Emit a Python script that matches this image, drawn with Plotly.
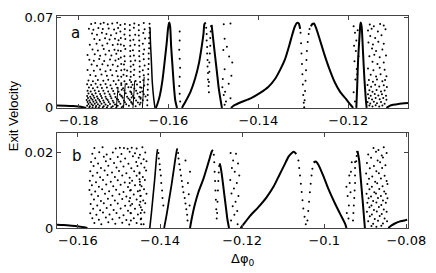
import plotly.graph_objects as go

# ================= panel (a) data =================
a_left_curve_x = [-0.1850, -0.1830, -0.1812, -0.1800, -0.1790, -0.1783]
a_left_curve_y = [0.0019, 0.0017, 0.0014, 0.0010, 0.0005, 0.0]

a_right_curve_x = [-0.1115, -0.1108, -0.1100, -0.1088, -0.1067]
a_right_curve_y = [0.0, 0.0015, 0.0024, 0.0031, 0.0037]

a_peakA_x = [-0.1628, -0.1624, -0.1619, -0.1613, -0.1608, -0.1604, -0.1601, -0.1599, -0.1598,
             -0.1596, -0.1594, -0.1591, -0.1588, -0.1585, -0.1581]
a_peakA_y = [0.0, 0.0036, 0.0099, 0.0223, 0.0373, 0.0498, 0.0610, 0.0652, 0.0660,
             0.0622, 0.0473, 0.0323, 0.0173, 0.0061, 0.0]

a_peakB_left_x = [-0.1570, -0.1562, -0.1551, -0.1541, -0.1532, -0.1526, -0.1522, -0.1520, -0.1517]
a_peakB_left_y = [0.0, 0.0049, 0.0124, 0.0223, 0.0348, 0.0473, 0.0573, 0.0647, 0.0660]
a_peakB_right_x = [-0.1504, -0.1501, -0.1497, -0.1492, -0.1488, -0.1484, -0.1481]
a_peakB_right_y = [0.0642, 0.0548, 0.0423, 0.0273, 0.0148, 0.0061, 0.0]

a_peakC_left_x = [-0.1461, -0.1454, -0.1439, -0.1417, -0.1396, -0.1378, -0.1363, -0.1351,
                  -0.1341, -0.1332, -0.1325, -0.1319, -0.1314, -0.1310, -0.1307]
a_peakC_left_y = [0.0, 0.0019, 0.0044, 0.0074, 0.0116, 0.0161, 0.0223, 0.0298,
                  0.0373, 0.0473, 0.0560, 0.0627, 0.0657, 0.0652, 0.0610]
a_peakC_right_x = [-0.1283, -0.1280, -0.1276, -0.1272, -0.1265, -0.1254, -0.1243, -0.1230,
                   -0.1218, -0.1205, -0.1196, -0.1189]
a_peakC_right_y = [0.0630, 0.0647, 0.0652, 0.0622, 0.0548, 0.0423, 0.0311, 0.0198,
                   0.0124, 0.0069, 0.0029, 0.0]

a_spikeD_x = [-0.1182, -0.1180, -0.1178, -0.1175, -0.1173, -0.1172, -0.1170, -0.1167, -0.1164, -0.1161, -0.1159]
a_spikeD_y = [0.0, 0.0173, 0.0373, 0.0548, 0.0647, 0.0660, 0.0622, 0.0423, 0.0223, 0.0074, 0.0]

a_spikeS_right_x = [-0.1641, -0.1640, -0.1638, -0.1636, -0.1633, -0.1630]
a_spikeS_right_y = [0.062, 0.050, 0.036, 0.020, 0.008, 0.0]

a_short_fringes = [
    ([-0.1716, -0.1712], [0.0, 0.016]),
    ([-0.1700, -0.1696], [0.0, 0.019]),
    ([-0.1679, -0.1675], [0.0, 0.021]),
    ([-0.1658, -0.1654], [0.0, 0.024]),
]

a_chaos_pts = [
    (-0.1772,0.0648),(-0.1763,0.0655),(-0.1751,0.0650),(-0.1744,0.0657),(-0.1735,0.0646),(-0.1725,0.0652),
    (-0.1714,0.0658),(-0.1697,0.0649),(-0.1676,0.0652),(-0.1655,0.0656),
    (-0.1777,0.0612),(-0.1767,0.0603),(-0.1756,0.0618),(-0.1746,0.0609),(-0.1733,0.0614),(-0.1721,0.0605),
    (-0.1712,0.0617),(-0.1697,0.0610),(-0.1677,0.0620),(-0.1653,0.0607),
    (-0.1770,0.0575),(-0.1759,0.0566),(-0.1748,0.0580),(-0.1738,0.0570),(-0.1728,0.0562),(-0.1716,0.0577),
    (-0.1698,0.0568),(-0.1674,0.0565),(-0.1656,0.0578),
    (-0.1765,0.0532),(-0.1753,0.0525),(-0.1741,0.0538),(-0.1731,0.0528),(-0.1719,0.0535),(-0.1711,0.0522),
    (-0.1696,0.0533),(-0.1678,0.0527),(-0.1652,0.0536),
    (-0.1775,0.0488),(-0.1760,0.0495),(-0.1747,0.0483),(-0.1736,0.0497),(-0.1724,0.0486),(-0.1713,0.0492),
    (-0.1699,0.0481),(-0.1675,0.0487),(-0.1657,0.0496),
    (-0.1769,0.0452),(-0.1757,0.0444),(-0.1744,0.0456),(-0.1732,0.0441),(-0.1720,0.0450),(-0.1712,0.0443),
    (-0.1696,0.0455),(-0.1679,0.0446),(-0.1654,0.0452),
    (-0.1780,0.0408),(-0.1764,0.0415),(-0.1752,0.0402),(-0.1740,0.0413),(-0.1727,0.0405),(-0.1716,0.0418),
    (-0.1698,0.0400),(-0.1677,0.0404),(-0.1656,0.0416),
    (-0.1776,0.0372),(-0.1766,0.0365),(-0.1754,0.0377),(-0.1743,0.0363),(-0.1730,0.0374),(-0.1718,0.0366),
    (-0.1711,0.0378),(-0.1697,0.0361),(-0.1674,0.0367),(-0.1655,0.0376),
    (-0.1771,0.0335),(-0.1759,0.0326),(-0.1747,0.0338),(-0.1735,0.0328),(-0.1724,0.0333),(-0.1713,0.0322),
    (-0.1699,0.0336),(-0.1678,0.0334),(-0.1653,0.0327),
    (-0.1780,0.0293),(-0.1766,0.0287),(-0.1752,0.0297),(-0.1740,0.0284),(-0.1729,0.0292),(-0.1716,0.0285),
    (-0.1698,0.0296),(-0.1692,0.0288),(-0.1676,0.0294),(-0.1657,0.0291),
    (-0.1774,0.0255),(-0.1762,0.0246),(-0.1749,0.0258),(-0.1737,0.0248),(-0.1725,0.0253),(-0.1713,0.0244),
    (-0.1700,0.0256),(-0.1693,0.0247),(-0.1677,0.0254),(-0.1655,0.0252),
    (-0.1778,0.0212),(-0.1768,0.0206),(-0.1757,0.0215),(-0.1745,0.0209),(-0.1734,0.0217),(-0.1722,0.0207),
    (-0.1711,0.0213),(-0.1698,0.0205),(-0.1686,0.0216),(-0.1673,0.0208),(-0.1656,0.0214),
    (-0.1781,0.0182),(-0.1772,0.0176),(-0.1762,0.0186),(-0.1751,0.0178),(-0.1740,0.0184),(-0.1729,0.0175),
    (-0.1717,0.0183),(-0.1705,0.0177),(-0.1693,0.0185),(-0.1680,0.0179),(-0.1670,0.0181),(-0.1654,0.0174),
    (-0.1777,0.0157),(-0.1768,0.0151),(-0.1758,0.0160),(-0.1748,0.0153),(-0.1737,0.0158),(-0.1726,0.0150),
    (-0.1714,0.0156),(-0.1701,0.0152),(-0.1689,0.0159),(-0.1676,0.0150),(-0.1660,0.0155),
    (-0.1780,0.0132),(-0.1773,0.0127),(-0.1764,0.0135),(-0.1755,0.0128),(-0.1745,0.0133),(-0.1734,0.0126),
    (-0.1723,0.0131),(-0.1711,0.0125),(-0.1698,0.0134),(-0.1685,0.0127),(-0.1672,0.0132),(-0.1658,0.0126),
    (-0.1778,0.0111),(-0.1770,0.0106),(-0.1762,0.0114),(-0.1752,0.0108),(-0.1742,0.0112),(-0.1731,0.0105),
    (-0.1720,0.0110),(-0.1708,0.0104),(-0.1695,0.0113),(-0.1682,0.0107),(-0.1669,0.0111),(-0.1655,0.0105),
    (-0.1781,0.0091),(-0.1774,0.0087),(-0.1767,0.0094),(-0.1759,0.0088),(-0.1750,0.0092),(-0.1740,0.0086),
    (-0.1729,0.0090),(-0.1718,0.0085),(-0.1705,0.0093),(-0.1692,0.0087),(-0.1679,0.0091),(-0.1665,0.0086),(-0.1651,0.0089),
    (-0.1779,0.0076),(-0.1772,0.0072),(-0.1765,0.0078),(-0.1757,0.0073),(-0.1748,0.0077),(-0.1738,0.0071),
    (-0.1727,0.0075),(-0.1715,0.0070),(-0.1702,0.0078),(-0.1689,0.0072),(-0.1676,0.0076),(-0.1662,0.0071),
    (-0.1782,0.0061),(-0.1776,0.0058),(-0.1769,0.0063),(-0.1762,0.0059),(-0.1754,0.0062),(-0.1745,0.0057),
    (-0.1735,0.0061),(-0.1724,0.0056),(-0.1712,0.0063),(-0.1699,0.0058),(-0.1686,0.0062),(-0.1672,0.0057),(-0.1657,0.0060),
    (-0.1780,0.0046),(-0.1774,0.0042),(-0.1767,0.0048),(-0.1760,0.0043),(-0.1752,0.0047),(-0.1743,0.0042),
    (-0.1733,0.0046),(-0.1722,0.0041),(-0.1710,0.0047),(-0.1697,0.0043),(-0.1683,0.0046),(-0.1668,0.0042),
    (-0.1778,0.0031),(-0.1771,0.0028),(-0.1764,0.0033),(-0.1757,0.0029),(-0.1749,0.0032),(-0.1740,0.0027),
    (-0.1730,0.0031),(-0.1719,0.0027),(-0.1707,0.0032),(-0.1694,0.0028),(-0.1680,0.0031),(-0.1664,0.0027),
    (-0.1781,0.0016),(-0.1775,0.0013),(-0.1768,0.0018),(-0.1761,0.0014),(-0.1753,0.0017),(-0.1744,0.0012),
    (-0.1735,0.0016),(-0.1724,0.0013),(-0.1713,0.0017),(-0.1701,0.0012),(-0.1688,0.0016),(-0.1673,0.0013),
    (-0.1776,0.0005),(-0.1769,0.0003),(-0.1762,0.0006),(-0.1755,0.0004),(-0.1746,0.0005),(-0.1737,0.0003),
    (-0.1727,0.0006),(-0.1716,0.0004),(-0.1704,0.0005),
]

a_fringe_pts = [
    # dotted columns inside the chaotic band
    (-0.1707,0.064),(-0.1707,0.059),(-0.1706,0.054),(-0.1706,0.049),(-0.1706,0.044),(-0.1706,0.039),
    (-0.1705,0.034),(-0.1705,0.029),(-0.1705,0.024),(-0.1705,0.019),(-0.1704,0.014),(-0.1704,0.009),
    (-0.1686,0.064),(-0.1686,0.060),(-0.1686,0.056),(-0.1685,0.052),(-0.1685,0.048),(-0.1685,0.044),
    (-0.1685,0.040),(-0.1684,0.036),(-0.1684,0.032),(-0.1684,0.028),(-0.1684,0.024),(-0.1683,0.020),
    (-0.1683,0.016),(-0.1683,0.012),(-0.1682,0.008),(-0.1682,0.004),
    (-0.1666,0.064),(-0.1666,0.060),(-0.1666,0.056),(-0.1665,0.052),(-0.1665,0.048),(-0.1665,0.044),
    (-0.1665,0.040),(-0.1664,0.036),(-0.1664,0.032),(-0.1664,0.028),(-0.1664,0.024),(-0.1663,0.020),
    (-0.1663,0.016),(-0.1663,0.012),(-0.1662,0.008),(-0.1662,0.004),
    (-0.1647,0.002),(-0.1647,0.006),(-0.1646,0.010),(-0.1646,0.014),(-0.1646,0.018),(-0.1645,0.022),
    (-0.1645,0.026),(-0.1645,0.030),(-0.1644,0.034),(-0.1644,0.038),(-0.1644,0.042),(-0.1643,0.046),
    (-0.1643,0.050),(-0.1643,0.054),(-0.1642,0.058),(-0.1642,0.062),(-0.1642,0.065),
    # dotted column right of peak A
    (-0.1575,0.059),(-0.1575,0.052),(-0.1576,0.045),(-0.1575,0.038),(-0.1574,0.031),(-0.1575,0.024),
    (-0.1576,0.017),(-0.1575,0.011),(-0.1574,0.005),
    # inside peak B
    (-0.1516,0.062),(-0.1515,0.057),(-0.1515,0.052),(-0.1514,0.047),(-0.1514,0.042),(-0.1513,0.037),
    (-0.1513,0.032),(-0.1512,0.027),(-0.1512,0.022),(-0.1511,0.017),(-0.1510,0.012),(-0.1510,0.020),
    (-0.1509,0.028),(-0.1509,0.035),(-0.1508,0.042),(-0.1507,0.048),(-0.1507,0.054),(-0.1506,0.059),(-0.1505,0.063),
    # column after peak B
    (-0.1477,0.0647),(-0.1462,0.0652),(-0.1475,0.0535),(-0.1470,0.0473),(-0.1478,0.0448),(-0.1465,0.0398),
    (-0.1475,0.0298),(-0.1460,0.0248),(-0.1479,0.0223),(-0.1466,0.0186),(-0.1474,0.0124),(-0.1477,0.0099),
    (-0.1462,0.0074),(-0.1472,0.0049),(-0.1475,0.0024),(-0.1480,0.0160),(-0.1458,0.0350),
    # dotted dip of peak C
    (-0.1306,0.058),(-0.1305,0.050),(-0.1304,0.042),(-0.1303,0.034),(-0.1302,0.026),(-0.1301,0.018),
    (-0.1300,0.010),(-0.1299,0.004),(-0.1298,0.0005),(-0.1297,0.006),(-0.1296,0.013),(-0.1295,0.021),
    (-0.1294,0.029),(-0.1293,0.037),(-0.1292,0.044),(-0.1290,0.051),(-0.1288,0.057),(-0.1286,0.061),
]

a_right_chaos_pts = [
    (-0.1188,0.063),(-0.1185,0.058),(-0.1187,0.048),(-0.1183,0.044),(-0.1186,0.036),(-0.1181,0.030),
    (-0.1184,0.022),(-0.1179,0.060),(-0.1188,0.012),(-0.1182,0.052),(-0.1177,0.040),(-0.1185,0.005),(-0.1180,0.026),
    (-0.1152,0.0645),(-0.1143,0.0631),(-0.1129,0.0648),(-0.1121,0.0636),
    (-0.1156,0.0598),(-0.1148,0.0611),(-0.1134,0.0590),(-0.1117,0.0607),
    (-0.1151,0.0556),(-0.1140,0.0541),(-0.1126,0.0562),
    (-0.1155,0.0505),(-0.1145,0.0489),(-0.1133,0.0512),(-0.1121,0.0495),
    (-0.1147,0.0458),(-0.1138,0.0440),(-0.1124,0.0451),
    (-0.1153,0.0400),(-0.1142,0.0411),(-0.1130,0.0392),(-0.1116,0.0404),
    (-0.1146,0.0357),(-0.1135,0.0340),(-0.1121,0.0351),
    (-0.1156,0.0305),(-0.1144,0.0290),(-0.1130,0.0311),(-0.1119,0.0294),
    (-0.1150,0.0257),(-0.1138,0.0242),(-0.1128,0.0260),(-0.1115,0.0245),
    (-0.1154,0.0215),(-0.1145,0.0203),(-0.1136,0.0219),(-0.1124,0.0206),(-0.1118,0.0216),
    (-0.1157,0.0176),(-0.1149,0.0163),(-0.1140,0.0178),(-0.1131,0.0165),(-0.1121,0.0175),(-0.1114,0.0162),
    (-0.1153,0.0136),(-0.1146,0.0124),(-0.1137,0.0138),(-0.1127,0.0126),(-0.1119,0.0135),
    (-0.1156,0.0105),(-0.1150,0.0094),(-0.1141,0.0107),(-0.1133,0.0095),(-0.1125,0.0106),(-0.1116,0.0093),
    (-0.1154,0.0075),(-0.1147,0.0064),(-0.1139,0.0077),(-0.1130,0.0066),(-0.1122,0.0076),(-0.1115,0.0063),
    (-0.1157,0.0045),(-0.1151,0.0034),(-0.1143,0.0047),(-0.1136,0.0035),(-0.1127,0.0046),(-0.1119,0.0033),
    (-0.1153,0.0018),(-0.1146,0.0010),(-0.1139,0.0020),(-0.1131,0.0011),(-0.1124,0.0019),
]

# ================= panel (b) data =================
b_left_curve_x = [-0.1653, -0.1635, -0.1615, -0.1598, -0.1585, -0.1577]
b_left_curve_y = [0.0009, 0.0008, 0.0006, 0.0004, 0.0002, 0.0]

b_right_curve_x = [-0.0844, -0.0836, -0.0828, -0.0817, -0.0798]
b_right_curve_y = [0.0, 0.0007, 0.0012, 0.0017, 0.0022]

b_spike1_x = [-0.1425, -0.1421, -0.1417, -0.1413, -0.1410, -0.1408, -0.1406]
b_spike1_y = [0.0, 0.0040, 0.0085, 0.0130, 0.0170, 0.0195, 0.0210]
b_spike2_x = [-0.1390, -0.1384, -0.1378, -0.1372, -0.1367, -0.1363, -0.1360, -0.1358]
b_spike2_y = [0.0, 0.0035, 0.0075, 0.0115, 0.0152, 0.0182, 0.0202, 0.0212]

b_peakP1_left_x = [-0.1327, -0.1323, -0.1316, -0.1307, -0.1295, -0.1285, -0.1278, -0.1274, -0.1271]
b_peakP1_left_y = [0.0, 0.0024, 0.0059, 0.0094, 0.0129, 0.0164, 0.0190, 0.0204, 0.0208]
b_peakP1_right_x = [-0.1255, -0.1253, -0.1250, -0.1245, -0.1240, -0.1236, -0.1232]
b_peakP1_right_y = [0.0172, 0.0165, 0.0146, 0.0103, 0.0059, 0.0024, 0.0]

b_peakP2_left_x = [-0.1204, -0.1196, -0.1180, -0.1161, -0.1141, -0.1123, -0.1109, -0.1097,
                   -0.1087, -0.1079, -0.1074, -0.1068]
b_peakP2_left_y = [0.0, 0.0011, 0.0033, 0.0055, 0.0081, 0.0111, 0.0142, 0.0168,
                   0.0190, 0.0200, 0.0203, 0.0197]
b_peakP2_right_x = [-0.1026, -0.1021, -0.1014, -0.1002, -0.0991, -0.0975, -0.0961, -0.0949, -0.0946]
b_peakP2_right_y = [0.0174, 0.0177, 0.0168, 0.0138, 0.0107, 0.0068, 0.0037, 0.0011, 0.0]

b_spikeQ_x = [-0.0919, -0.0915, -0.0911, -0.0907, -0.0904, -0.0901]
b_spikeQ_y = [0.0205, 0.0180, 0.0130, 0.0080, 0.0040, 0.0]

b_chaos_pts = [
    (-0.1560,0.0213),(-0.1540,0.0215),(-0.1508,0.0212),(-0.1498,0.0214),(-0.1488,0.0213),(-0.1479,0.0211),(-0.1469,0.0214),(-0.1457,0.0212),(-0.1443,0.0215),
    (-0.1565,0.0198),(-0.1548,0.0202),(-0.1530,0.0196),(-0.1515,0.0201),(-0.1494,0.0197),(-0.1474,0.0203),(-0.1461,0.0199),(-0.1449,0.0195),(-0.1436,0.0201),
    (-0.1558,0.0186),(-0.1537,0.0190),(-0.1521,0.0184),(-0.1503,0.0189),(-0.1485,0.0185),(-0.1466,0.0191),(-0.1452,0.0187),(-0.1440,0.0183),
    (-0.1568,0.0176),(-0.1551,0.0172),(-0.1532,0.0178),(-0.1512,0.0173),(-0.1496,0.0177),(-0.1477,0.0171),(-0.1458,0.0176),(-0.1446,0.0172),(-0.1433,0.0178),
    (-0.1562,0.0165),(-0.1544,0.0160),(-0.1526,0.0166),(-0.1506,0.0161),(-0.1489,0.0164),(-0.1470,0.0159),(-0.1455,0.0165),(-0.1438,0.0161),
    (-0.1570,0.0151),(-0.1553,0.0147),(-0.1535,0.0153),(-0.1517,0.0148),(-0.1500,0.0152),(-0.1482,0.0146),(-0.1463,0.0151),(-0.1450,0.0148),(-0.1434,0.0153),
    (-0.1564,0.0139),(-0.1546,0.0135),(-0.1528,0.0141),(-0.1510,0.0136),(-0.1492,0.0140),(-0.1474,0.0134),(-0.1457,0.0139),(-0.1442,0.0136),
    (-0.1571,0.0126),(-0.1556,0.0122),(-0.1539,0.0128),(-0.1520,0.0123),(-0.1503,0.0127),(-0.1486,0.0121),(-0.1468,0.0126),(-0.1449,0.0123),(-0.1437,0.0128),
    (-0.1566,0.0114),(-0.1549,0.0110),(-0.1531,0.0116),(-0.1514,0.0111),(-0.1496,0.0115),(-0.1478,0.0109),(-0.1461,0.0114),(-0.1445,0.0111),
    (-0.1572,0.0101),(-0.1558,0.0097),(-0.1541,0.0103),(-0.1524,0.0098),(-0.1507,0.0102),(-0.1489,0.0096),(-0.1471,0.0101),(-0.1454,0.0098),(-0.1439,0.0103),
    (-0.1567,0.0089),(-0.1551,0.0085),(-0.1534,0.0091),(-0.1516,0.0086),(-0.1499,0.0090),(-0.1482,0.0084),(-0.1464,0.0089),(-0.1447,0.0086),(-0.1433,0.0091),
    (-0.1561,0.0076),(-0.1544,0.0072),(-0.1527,0.0078),(-0.1510,0.0073),(-0.1492,0.0077),(-0.1475,0.0071),(-0.1457,0.0076),(-0.1441,0.0073),
    (-0.1569,0.0064),(-0.1553,0.0060),(-0.1537,0.0066),(-0.1520,0.0061),(-0.1503,0.0065),(-0.1485,0.0059),(-0.1468,0.0064),(-0.1450,0.0061),(-0.1436,0.0066),
    (-0.1563,0.0051),(-0.1546,0.0047),(-0.1530,0.0053),(-0.1513,0.0048),(-0.1496,0.0052),(-0.1478,0.0046),(-0.1461,0.0051),(-0.1444,0.0048),
    (-0.1570,0.0039),(-0.1555,0.0035),(-0.1539,0.0041),(-0.1523,0.0036),(-0.1506,0.0040),(-0.1489,0.0034),(-0.1471,0.0039),(-0.1454,0.0036),(-0.1438,0.0041),
    (-0.1565,0.0026),(-0.1549,0.0022),(-0.1532,0.0028),(-0.1516,0.0023),(-0.1499,0.0027),(-0.1482,0.0021),(-0.1464,0.0026),(-0.1447,0.0023),
    (-0.1560,0.0013),(-0.1543,0.0010),(-0.1526,0.0015),(-0.1509,0.0011),(-0.1492,0.0014),(-0.1475,0.0009),(-0.1457,0.0013),(-0.1440,0.0010),
]

b_fringe_pts = [
    (-0.1474,0.012),(-0.1473,0.010),(-0.1473,0.008),(-0.1472,0.006),(-0.1472,0.004),(-0.1471,0.002),
    (-0.1450,0.0145),(-0.1450,0.0130),(-0.1449,0.0115),(-0.1449,0.0100),(-0.1448,0.0085),(-0.1448,0.0070),
    (-0.1447,0.0055),(-0.1447,0.0040),(-0.1446,0.0025),(-0.1446,0.0010),
    (-0.1404,0.0200),(-0.1403,0.0185),(-0.1401,0.0170),(-0.1400,0.0155),(-0.1398,0.0140),(-0.1397,0.0120),
    (-0.1395,0.0100),(-0.1394,0.0080),(-0.1392,0.0060),
    (-0.1356,0.0200),(-0.1355,0.0185),(-0.1353,0.0170),(-0.1351,0.0155),(-0.1349,0.0140),(-0.1347,0.0125),
    (-0.1345,0.0110),(-0.1343,0.0095),(-0.1340,0.0080),(-0.1338,0.0065),(-0.1336,0.0050),(-0.1334,0.0035),
    (-0.1332,0.0120),(-0.1330,0.0090),(-0.1328,0.0060),(-0.1333,0.0020),(-0.1327,0.0150),(-0.1338,0.0180),
    (-0.1269,0.0195),(-0.1268,0.0175),(-0.1267,0.0150),(-0.1266,0.0125),(-0.1265,0.0100),(-0.1264,0.0075),
    (-0.1263,0.0050),(-0.1262,0.0025),(-0.1261,0.0040),(-0.1260,0.0070),(-0.1259,0.0100),(-0.1258,0.0125),
    (-0.1257,0.0148),(-0.1256,0.0165),
    (-0.1228,0.0200),(-0.1215,0.0198),(-0.1222,0.0180),(-0.1210,0.0172),(-0.1225,0.0160),(-0.1218,0.0150),
    (-0.1207,0.0140),(-0.1229,0.0128),(-0.1213,0.0120),(-0.1220,0.0105),(-0.1226,0.0092),(-0.1209,0.0085),
    (-0.1216,0.0070),(-0.1223,0.0058),(-0.1212,0.0045),(-0.1219,0.0035),(-0.1227,0.0020),(-0.1211,0.0010),
    (-0.1063,0.0180),(-0.1061,0.0160),(-0.1059,0.0140),(-0.1057,0.0118),(-0.1055,0.0096),(-0.1053,0.0074),
    (-0.1051,0.0052),(-0.1048,0.0030),(-0.1045,0.0010),
    (-0.1041,0.0020),(-0.1039,0.0045),(-0.1037,0.0070),(-0.1035,0.0095),(-0.1033,0.0118),(-0.1031,0.0140),(-0.1029,0.0158),
    (-0.0930,0.0020),(-0.0929,0.0040),(-0.0928,0.0060),(-0.0927,0.0080),(-0.0926,0.0100),(-0.0925,0.0120),
    (-0.0925,0.0140),(-0.0925,0.0160),(-0.0925,0.0176),(-0.0922,0.0178),(-0.0921,0.0192),(-0.0920,0.0203),
]

b_right_chaos_pts = [
    (-0.0946,0.0110),(-0.0943,0.0085),(-0.0940,0.0060),(-0.0945,0.0040),(-0.0938,0.0120),(-0.0935,0.0150),
    (-0.0941,0.0025),(-0.0936,0.0095),(-0.0933,0.0175),(-0.0939,0.0140),
    (-0.0880,0.0213),(-0.0868,0.0208),(-0.0855,0.0215),
    (-0.0893,0.0196),(-0.0874,0.0203),(-0.0860,0.0193),(-0.0848,0.0200),
    (-0.0886,0.0187),(-0.0870,0.0180),(-0.0857,0.0188),
    (-0.0896,0.0173),(-0.0879,0.0165),(-0.0864,0.0175),(-0.0851,0.0167),
    (-0.0889,0.0159),(-0.0873,0.0151),(-0.0859,0.0160),
    (-0.0898,0.0145),(-0.0883,0.0137),(-0.0867,0.0146),(-0.0853,0.0139),
    (-0.0891,0.0131),(-0.0876,0.0123),(-0.0862,0.0132),(-0.0848,0.0125),
    (-0.0895,0.0117),(-0.0884,0.0110),(-0.0871,0.0119),(-0.0858,0.0111),(-0.0846,0.0117),
    (-0.0890,0.0103),(-0.0878,0.0095),(-0.0866,0.0104),(-0.0854,0.0097),
    (-0.0897,0.0091),(-0.0886,0.0084),(-0.0874,0.0092),(-0.0862,0.0085),(-0.0850,0.0091),
    (-0.0892,0.0079),(-0.0881,0.0072),(-0.0869,0.0080),(-0.0857,0.0073),(-0.0846,0.0079),
    (-0.0895,0.0067),(-0.0885,0.0060),(-0.0873,0.0068),(-0.0861,0.0061),(-0.0850,0.0067),
    (-0.0890,0.0055),(-0.0879,0.0048),(-0.0867,0.0056),(-0.0855,0.0049),
    (-0.0896,0.0043),(-0.0884,0.0036),(-0.0872,0.0044),(-0.0860,0.0037),(-0.0848,0.0043),
    (-0.0889,0.0031),(-0.0877,0.0024),(-0.0865,0.0032),(-0.0853,0.0025),
    (-0.0893,0.0018),(-0.0881,0.0011),(-0.0869,0.0019),(-0.0857,0.0012),(-0.0847,0.0018),
    (-0.0885,0.0005),(-0.0873,0.0003),(-0.0861,0.0006),
]

# ================= axes / labels =================
a_xticks = [-0.18, -0.16, -0.14, -0.12]
a_xticktext = ["\u22120.18", "\u22120.16", "\u22120.14", "\u22120.12"]
a_yticks = [0, 0.07]
a_yticktext = ["0", "0.07"]
b_xticks = [-0.16, -0.14, -0.12, -0.1, -0.08]
b_xticktext = ["\u22120.16", "\u22120.14", "\u22120.12", "\u22120.1", "\u22120.08"]
b_yticks = [0, 0.02]
b_yticktext = ["0", "0.02"]

fig = go.Figure()

def add_line(xs, ys, panel, w=2.0):
    xa, ya = ("x", "y") if panel == "a" else ("x2", "y2")
    fig.add_trace(go.Scatter(x=xs, y=ys, mode="lines", xaxis=xa, yaxis=ya,
                             line=dict(color="black", width=w, shape="spline", smoothing=0.6),
                             hoverinfo="skip", showlegend=False))

def add_dots(pts, panel, size=2.0):
    xa, ya = ("x", "y") if panel == "a" else ("x2", "y2")
    fig.add_trace(go.Scatter(x=[p[0] for p in pts], y=[p[1] for p in pts], mode="markers",
                             xaxis=xa, yaxis=ya,
                             marker=dict(color="black", size=size, line=dict(width=0)),
                             hoverinfo="skip", showlegend=False))

# panel a
add_line(a_left_curve_x, a_left_curve_y, "a")
add_line(a_right_curve_x, a_right_curve_y, "a")
add_line(a_peakA_x, a_peakA_y, "a")
add_line(a_peakB_left_x, a_peakB_left_y, "a")
add_line(a_peakB_right_x, a_peakB_right_y, "a")
add_line(a_peakC_left_x, a_peakC_left_y, "a")
add_line(a_peakC_right_x, a_peakC_right_y, "a")
add_line(a_spikeD_x, a_spikeD_y, "a")
add_line(a_spikeS_right_x, a_spikeS_right_y, "a", 1.5)
for fx, fy in a_short_fringes:
    add_line(fx, fy, "a", 1.0)
add_dots(a_chaos_pts, "a")
add_dots(a_fringe_pts, "a")
add_dots(a_right_chaos_pts, "a")

# panel b
add_line(b_left_curve_x, b_left_curve_y, "b")
add_line(b_right_curve_x, b_right_curve_y, "b")
add_line(b_spike1_x, b_spike1_y, "b", 1.6)
add_line(b_spike2_x, b_spike2_y, "b", 1.8)
add_line(b_peakP1_left_x, b_peakP1_left_y, "b")
add_line(b_peakP1_right_x, b_peakP1_right_y, "b")
add_line(b_peakP2_left_x, b_peakP2_left_y, "b")
add_line(b_peakP2_right_x, b_peakP2_right_y, "b")
add_line(b_spikeQ_x, b_spikeQ_y, "b")
add_dots(b_chaos_pts, "b")
add_dots(b_fringe_pts, "b")
add_dots(b_right_chaos_pts, "b")

tickfont = dict(family="DejaVu Sans", size=13, color="black")
frame = dict(showline=True, linecolor="#444", linewidth=1, mirror="ticks", ticks="inside",
             ticklen=4, tickcolor="#444", showgrid=False, zeroline=False, tickfont=tickfont)

fig.update_layout(
    width=436, height=273,
    margin=dict(l=57, r=20, t=10, b=45),
    paper_bgcolor="white", plot_bgcolor="white",
    xaxis=dict(range=[-0.1848, -0.1067], tickvals=a_xticks, ticktext=a_xticktext,
               anchor="y", **frame),
    yaxis=dict(range=[0, 0.071], tickvals=a_yticks, ticktext=a_yticktext,
               domain=[0.5665, 1.0], anchor="x", **frame),
    xaxis2=dict(range=[-0.1651, -0.0796], tickvals=b_xticks, ticktext=b_xticktext,
                anchor="y2", **frame),
    yaxis2=dict(range=[0, 0.0252], tickvals=b_yticks, ticktext=b_yticktext,
                domain=[0.0, 0.4463], anchor="x2", **frame),
    annotations=[
        dict(text="a", x=0.053, y=0.922, xref="paper", yref="paper", showarrow=False,
             xanchor="center", yanchor="middle", font=dict(family="DejaVu Sans", size=15, color="black")),
        dict(text="b", x=0.0557, y=0.339, xref="paper", yref="paper", showarrow=False,
             xanchor="center", yanchor="middle", font=dict(family="DejaVu Sans", size=15, color="black")),
        dict(text="Exit Velocity", x=-0.1253, y=0.5275, xref="paper", yref="paper", showarrow=False,
             textangle=-90, xanchor="center", yanchor="middle",
             font=dict(family="Liberation Sans", size=13, color="black")),
        dict(text="\u0394\u03c6<sub>0</sub>", x=0.529, y=-0.147, xref="paper", yref="paper",
             showarrow=False, xanchor="center", yanchor="middle",
             font=dict(family="DejaVu Sans", size=13, color="black")),
    ],
)

fig.write_html("out.html", config={"displayModeBar": False},
               post_script="document.body.style.margin='0';")
